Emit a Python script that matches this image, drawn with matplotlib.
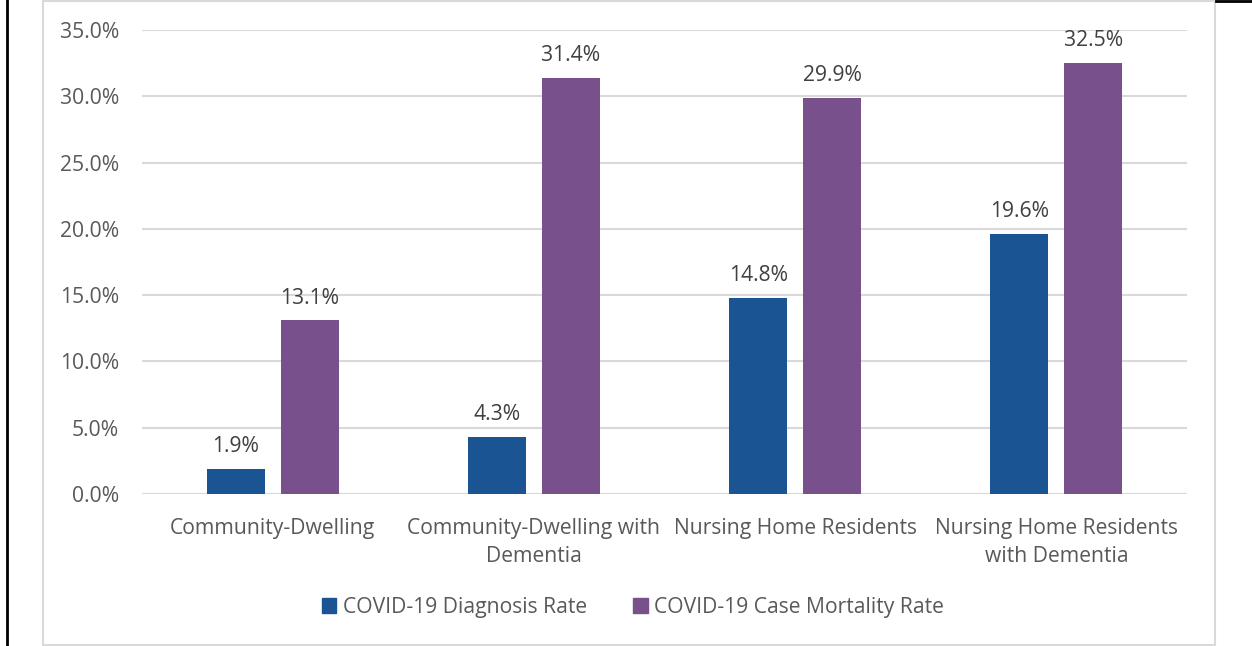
import numpy as np
import matplotlib.pyplot as plt
from matplotlib.patches import Rectangle
from matplotlib.lines import Line2D

categories = ["Community-Dwelling", "Community-Dwelling with\nDementia",
              "Nursing Home Residents", "Nursing Home Residents\nwith Dementia"]
diagnosis = [1.9, 4.3, 14.8, 19.6]
mortality = [13.1, 31.4, 29.9, 32.5]
series_names = ["COVID-19 Diagnosis Rate", "COVID-19 Case Mortality Rate"]

blue = "#1A5492"
purple = "#78508C"
txt = "#595959"
grid = "#D9D9D9"

plt.rcParams['font.family'] = ['Open Sans', 'DejaVu Sans']
fs = 15.2

fig = plt.figure(figsize=(12.52, 6.46), dpi=100)
ax = fig.add_axes([142/1252, 1-494/646, (1187-142)/1252, (494-30)/646])

x = np.arange(len(categories))
w = 0.222
off = 0.1416
b1 = ax.bar(x - off, diagnosis, w, color=blue, label=series_names[0], zorder=3)
b2 = ax.bar(x + off, mortality, w, color=purple, label=series_names[1], zorder=3)

for bars, vals in [(b1, diagnosis), (b2, mortality)]:
    for r, v in zip(bars, vals):
        ax.annotate("%.1f%%" % v, (r.get_x() + r.get_width()/2, v),
                    xytext=(0, 8.5), textcoords="offset points",
                    ha="center", va="bottom", fontsize=fs, color="#404040")

ax.set_xlim(-0.5, 3.5)
ax.set_ylim(0, 35)
ax.set_yticks(np.arange(0, 36, 5))
ax.set_yticklabels(["%.1f%%" % t for t in np.arange(0, 36, 5)])
ax.set_xticks(x)
ax.set_xticklabels(categories, linespacing=1.4)
ax.yaxis.grid(True, color=grid, lw=1.5, zorder=0)
for s in ax.spines.values():
    s.set_visible(False)
ax.tick_params(axis="both", length=0, labelsize=fs, colors=txt)
ax.tick_params(axis="y", pad=16.5)
ax.tick_params(axis="x", pad=17.5)
ax.axhline(0, color=grid, lw=1.5, zorder=2)

handles = [Rectangle((0, 0), 1, 1, color=blue), Rectangle((0, 0), 1, 1, color=purple)]
fig.legend(handles, series_names, loc="center", bbox_to_anchor=(633/1252, 1-607/646),
           ncol=2, frameon=False, fontsize=fs, handlelength=0.7, handleheight=0.7,
           columnspacing=2.2, handletextpad=0.3, labelcolor=txt)

# chart border and page lines
fig.add_artist(Rectangle((43/1252, 1/646), (1215-43)/1252, 644/646, transform=fig.transFigure,
                         fill=False, ec=grid, lw=1.5))
fig.add_artist(Line2D([6.5/1252, 6.5/1252], [0, 1], transform=fig.transFigure, color="black", lw=2))
fig.add_artist(Line2D([1216/1252, 1], [1-0.5/646, 1-0.5/646], transform=fig.transFigure, color="black", lw=2))

fig.savefig("out.png", dpi=100)
